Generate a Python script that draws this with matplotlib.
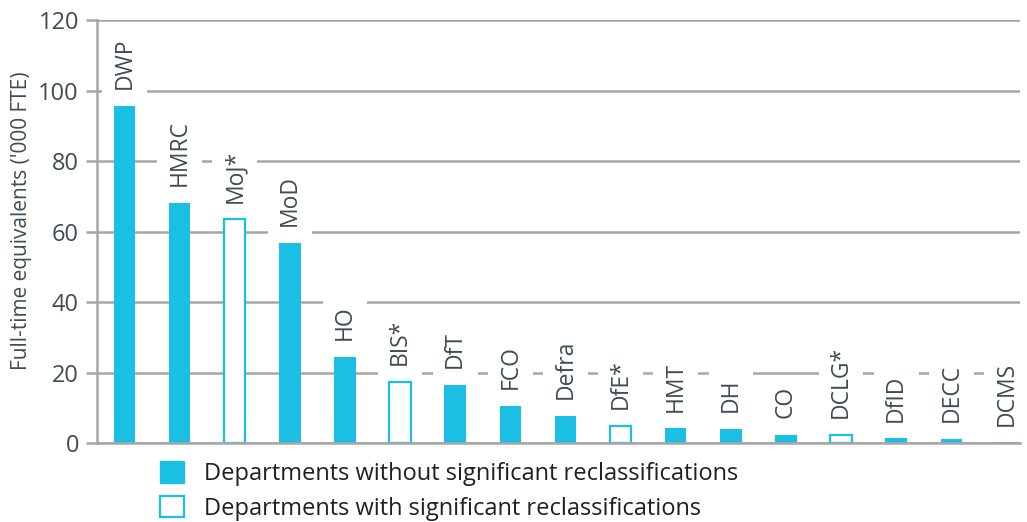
import matplotlib.pyplot as plt
from matplotlib.patches import Patch

plt.rcParams['font.family'] = ['Open Sans', 'DejaVu Sans']

departments = ['DWP', 'HMRC', 'MoJ*', 'MoD', 'HO', 'BIS*', 'DfT', 'FCO', 'Defra',
               'DfE*', 'HMT', 'DH', 'CO', 'DCLG*', 'DfID', 'DECC', 'DCMS']
fte = [95.6, 68.1, 63.5, 56.7, 24.4, 17.3, 16.5, 10.6, 7.8,
       4.9, 4.2, 4.0, 2.3, 2.3, 1.3, 1.1, 0.2]
reclassified = [False, False, True, False, False, True, False, False, False,
                True, False, False, False, True, False, False, False]

cyan = '#1bbfe3'
grey = '#a6a6a6'
txt = '#3f4b55'

fig = plt.figure(figsize=(10.27, 5.22), dpi=100)
ax = fig.add_axes([0.0944, 0.1513, 0.899, 0.8103])

x = range(len(departments))
for i, v, r in zip(x, fte, reclassified):
    if r:
        ax.bar(i, v, width=0.39, facecolor='white', edgecolor=cyan, linewidth=1.6, zorder=2)
    else:
        ax.bar(i, v, width=0.39, color=cyan, zorder=2)
    ax.annotate(departments[i], (i, v), xytext=(0, 12), textcoords='offset points',
                rotation=90, ha='center', va='bottom', fontsize=16.5, color=txt, zorder=3,
                bbox=dict(boxstyle='square,pad=0.45', facecolor='white', edgecolor='none'))

ax.set_xlim(-0.5, 16.25)
ax.set_ylim(0, 120)
ax.set_yticks(range(0, 121, 20))
ax.set_xticks([])
ax.grid(axis='y', color=grey, linewidth=1.8, zorder=0)
ax.set_axisbelow(True)
for s in ['top', 'right']:
    ax.spines[s].set_visible(False)
for s in ['left', 'bottom']:
    ax.spines[s].set_color(grey)
    ax.spines[s].set_linewidth(1.8)
ax.tick_params(axis='y', length=8, width=1.8, color=grey, labelsize=17, labelcolor=txt, pad=5)
ax.set_ylabel("Full-time equivalents ('000 FTE)", fontsize=15, color=txt,
              va='center', ha='center')
ax.yaxis.set_label_coords(-0.082, 0.525)

handles = [Patch(facecolor=cyan, edgecolor=cyan),
           Patch(facecolor='white', edgecolor=cyan, linewidth=1.6)]
fig.legend(handles, ['Departments without significant reclassifications',
                     'Departments with significant reclassifications'],
           loc='upper left', bbox_to_anchor=(0.1558, 0.116), frameon=False,
           fontsize=17, handlelength=1.0, handleheight=1.0, handletextpad=0.85,
           labelspacing=0.42, borderaxespad=0, borderpad=0, labelcolor='#231f20')

fig.savefig('out.png', dpi=100)
